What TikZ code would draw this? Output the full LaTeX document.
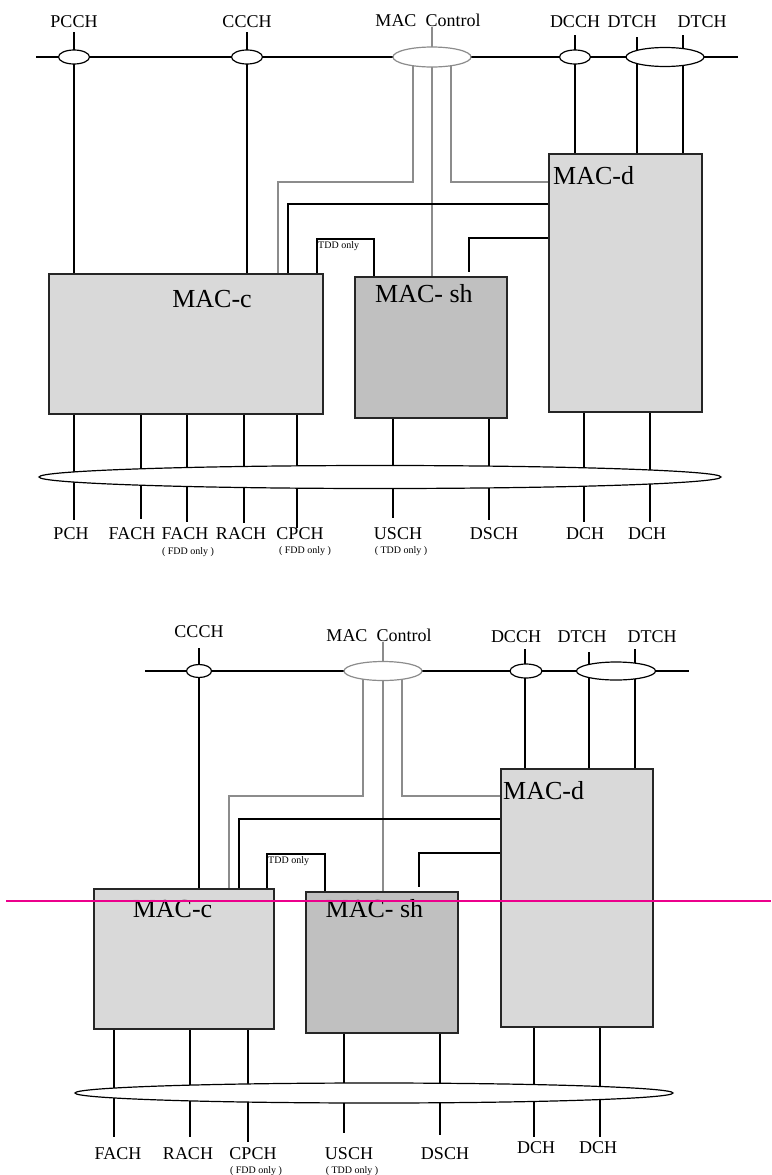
\documentclass[tikz,border=0pt]{standalone}
\usepackage{fontspec}
\setmainfont{Liberation Serif}
\usetikzlibrary{shapes.geometric,backgrounds}

\definecolor{boxgray}{HTML}{D9D9D9}
\definecolor{shgray}{HTML}{C0C0C0}
\definecolor{ctlgray}{HTML}{8C8C8C}

\tikzset{
  chan/.style={draw, ellipse, fill=white, line width=1.2pt, inner sep=0pt},
  ctlchan/.style={chan, draw=ctlgray},
  macbox/.style={draw=black!85, fill=boxgray, line width=1.2pt, inner sep=0pt},
  wire/.style={line width=1.1pt},
  ctlwire/.style={line width=1.1pt, draw=ctlgray},
  chlabel/.style={font=\fontsize{18}{20}\selectfont, inner sep=0pt},
  maclabel/.style={font=\fontsize{26}{28}\selectfont, inner sep=0pt},
  note/.style={font=\fontsize{10}{11}\selectfont, inner sep=0pt}
}

\begin{document}
\begin{tikzpicture}[x=1pt, y=-1pt]
  \useasboundingbox (0,0) rectangle (771,1175);

  % ===== upper diagram =====
  % MAC entities
  \node[macbox, minimum width=274, minimum height=140] (macc) at (186,344) {};
  \node[macbox, fill=shgray, minimum width=152, minimum height=141] (macsh) at (431,347.5) {};
  \node[macbox, minimum width=153, minimum height=258] (macd) at (625.5,283) {};
  \node[maclabel] (macc-l) at (212,299) {MAC-c};
  \node[maclabel] (macsh-l) at (424,294) {MAC- sh};
  \node[maclabel, anchor=west] (macd-l) at (553,176) {MAC-d};

  % logical channel ellipses on the bus
  \node[chan, minimum width=31, minimum height=14] (pcch) at (74,57) {};
  \node[chan, minimum width=31, minimum height=14] (ccch) at (247,57) {};
  \node[ctlchan, minimum width=78, minimum height=20] (macctl) at (432,57) {};
  \node[chan, minimum width=31, minimum height=14] (dcch) at (575,57) {};
  \node[chan, minimum width=78, minimum height=19] (dtch) at (665,57) {};
  \node[chan, minimum width=682, minimum height=23] (trch) at (380,477) {};

  \begin{scope}[on background layer]
    % bus and channel lines
    \coordinate (busL) at (36,57);
    \coordinate (busR) at (738,57);
    \draw[wire] (busL) -- (busR);
    \foreach \x in {74,247} \draw[wire] (\x,32) -- (\x,0 |- macc.north);
    \foreach \x/\ytop in {575/35, 637/37, 683/35} \draw[wire] (\x,\ytop) -- (\x,0 |- macd.north);
    % MAC control (grey)
    \draw[ctlwire] (432,27) -- (432,0 |- macsh.north);
    \draw[ctlwire] (413,57) |- (278,182) -- (278,0 |- macc.north);
    \draw[ctlwire] (451,57) |- (macd.west |- 0,182);
    % links between MAC entities
    \draw[wire] (macd.west |- 0,204) -| (288,0 |- macc.north);
    \draw[wire] (macd.west |- 0,238) -| (469,272);
    \draw[wire] (317,0 |- macc.north) |- (374,239) -- (374,0 |- macsh.north);
    % transport channels
    \foreach \x/\yend in {74/520, 141/519, 187/522, 244/523, 297/528} \draw[wire] (\x,0 |- macc.south) -- (\x,\yend);
    \foreach \x/\yend in {393/518, 489/520} \draw[wire] (\x,0 |- macsh.south) -- (\x,\yend);
    \foreach \x/\yend in {584/522, 650/522} \draw[wire] (\x,0 |- macd.south) -- (\x,\yend);
  \end{scope}

  % labels
  \foreach \name/\x in {PCCH/74, CCCH/247, DCCH/575, DTCH/632, DTCH/702} \node[chlabel] (up-\x) at (\x,22) {\name};
  \node[chlabel] (up-ctl) at (428,20) {MAC~ Control};
  \node[note, anchor=west] (up-tdd) at (318,246) {TDD only};
  \foreach \name/\x in {PCH/71, FACH/132, FACH/185, RACH/241, CPCH/300, USCH/398, DSCH/494, DCH/585, DCH/647} \node[chlabel] (upb-\x) at (\x,534) {\name};
  \node[note] (upn-1) at (188,552) {( FDD only )};
  \node[note] (upn-2) at (305,551) {( FDD only )};
  \node[note] (upn-3) at (401,551) {( TDD only )};

  % ===== lower diagram =====
  % MAC entities
  \node[macbox, minimum width=180, minimum height=140] (macc2) at (184,959) {};
  \node[macbox, fill=shgray, minimum width=152, minimum height=141] (macsh2) at (382,962.5) {};
  \node[macbox, minimum width=152, minimum height=258] (macd2) at (577,898) {};
  \node[maclabel] (macc2-l) at (172.5,909) {MAC-c};
  \node[maclabel] (macsh2-l) at (374.5,909) {MAC- sh};
  \node[maclabel, anchor=west] (macd2-l) at (503,791) {MAC-d};

  % logical channel ellipses on the bus
  \node[chan, minimum width=25, minimum height=13] (ccch2) at (199,671) {};
  \node[ctlchan, minimum width=78, minimum height=19] (macctl2) at (383,671) {};
  \node[chan, minimum width=32, minimum height=14] (dcch2) at (526,671) {};
  \node[chan, minimum width=79, minimum height=18] (dtch2) at (616,671) {};
  \node[chan, minimum width=598, minimum height=20] (trch2) at (374,1093) {};

  \begin{scope}[on background layer]
    % bus and channel lines
    \coordinate (bus2L) at (145,671);
    \coordinate (bus2R) at (689,671);
    \draw[wire] (bus2L) -- (bus2R);
    \draw[wire] (199,648) -- (199,0 |- macc2.north);
    \foreach \x/\ytop in {525/649, 589/652, 635/649} \draw[wire] (\x,\ytop) -- (\x,0 |- macd2.north);
    % MAC control (grey)
    \draw[ctlwire] (383,642) -- (383,0 |- macsh2.north);
    \draw[ctlwire] (363,671) |- (229,796) -- (229,0 |- macc2.north);
    \draw[ctlwire] (402,671) |- (macd2.west |- 0,796);
    % links between MAC entities
    \draw[wire] (macd2.west |- 0,819) -| (239,0 |- macc2.north);
    \draw[wire] (macd2.west |- 0,853) -| (419,887);
    \draw[wire] (267,0 |- macc2.north) |- (325,854) -- (325,0 |- macsh2.north);
    % transport channels
    \foreach \x/\yend in {114/1137, 190/1137, 248/1142} \draw[wire] (\x,0 |- macc2.south) -- (\x,\yend);
    \foreach \x/\yend in {344/1133, 440/1135} \draw[wire] (\x,0 |- macsh2.south) -- (\x,\yend);
    \foreach \x/\yend in {534/1137, 600/1137} \draw[wire] (\x,0 |- macd2.south) -- (\x,\yend);
  \end{scope}

  % labels
  \node[chlabel] (lo-ccch) at (199,632) {CCCH};
  \node[chlabel] (lo-ctl) at (379,635) {MAC~ Control};
  \foreach \name/\x in {DCCH/516, DTCH/582, DTCH/652} \node[chlabel] (lo-\x) at (\x,637) {\name};
  \node[note, anchor=west] (lo-tdd) at (268,861) {TDD only};
  \foreach \name/\x in {FACH/118, RACH/188, CPCH/253, USCH/349, DSCH/445} \node[chlabel] (lob-\x) at (\x,1154) {\name};
  \foreach \x in {536,598} \node[chlabel] (lob-\x) at (\x,1148) {DCH};
  \node[note] (lon-1) at (256,1171) {( FDD only )};
  \node[note] (lon-2) at (352,1171) {( TDD only )};

  % magenta marker line
  \coordinate (markL) at (6,901);
  \coordinate (markR) at (771,901);
  \draw[magenta, line width=1.3pt] (markL) -- (markR);
\end{tikzpicture}
\end{document}
